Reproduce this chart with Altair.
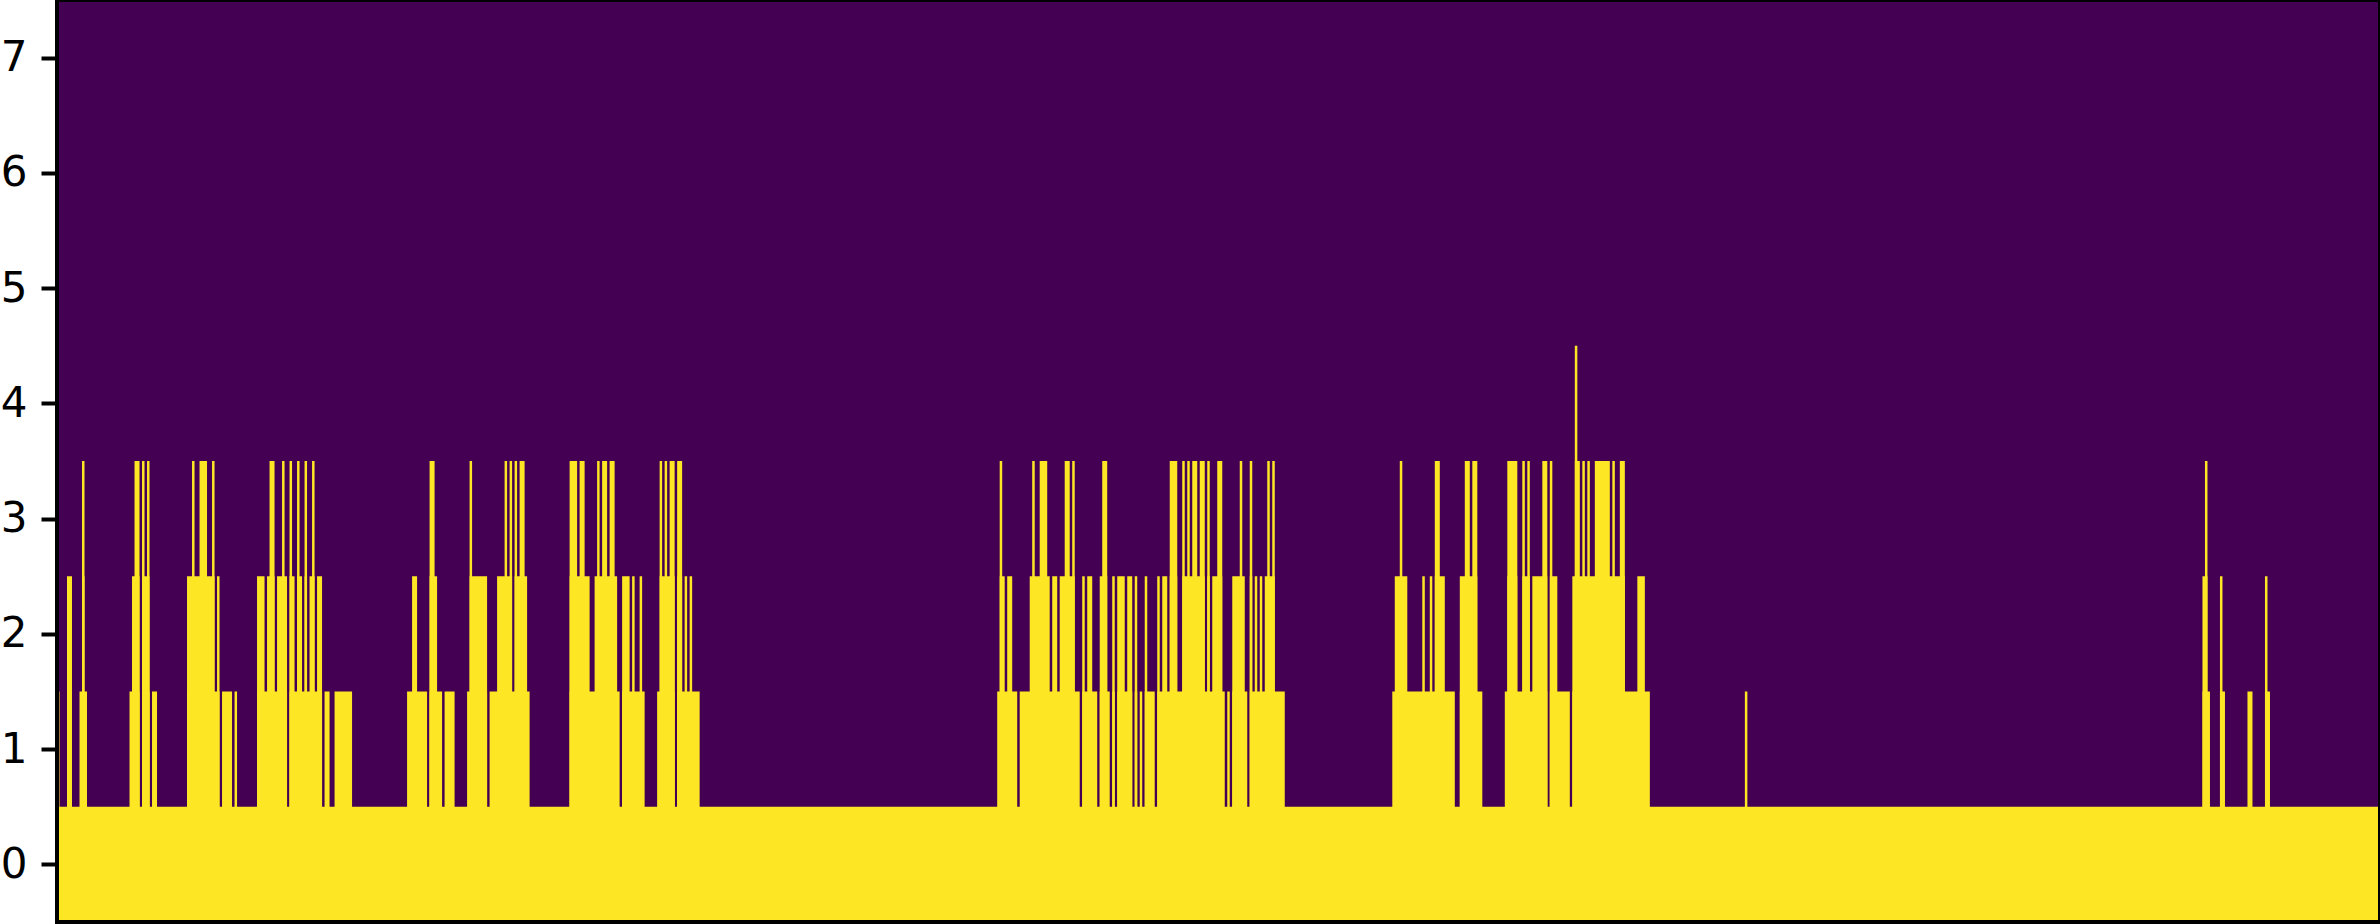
import altair as alt
import pandas as pd

# Number of columns in the image-like grid and number of rows
N_COLS = 929
N_ROWS = 8

# Run-length description of the grid: each run starts at a column index
# and all columns in the run have the given number of filled (yellow) cells.
RUN_START = [
    0, 1, 4, 6, 9, 10, 11, 12,
    29, 30, 31, 33, 34, 35, 36, 37, 38, 40,
    52, 54, 55, 57, 60, 62, 63, 64, 65, 66, 70, 71, 72,
    80, 83, 84, 85, 87, 88, 90, 91, 92, 93, 94, 95, 96, 97, 98, 99, 100, 101, 102, 103, 104, 106, 107, 109, 111, 118,
    140, 142, 144, 148, 149, 151, 152, 154, 155, 159, 164, 165, 166, 172, 173, 176, 179, 180, 181, 182, 183, 184, 185, 187, 188, 189,
    205, 208, 209, 211, 213, 215, 216, 217, 218, 220, 221, 223, 224, 225, 226, 229, 230, 231, 233, 234, 235,
    240, 241, 242, 243, 244, 245, 247, 248, 250, 251, 252, 253, 254, 257,
    376, 377, 378, 379, 380, 382, 384, 385, 389, 390, 391, 393, 396, 397, 398, 400, 401, 403, 405, 406, 407, 409,
    410, 411, 412, 414, 416, 417, 418, 420, 421, 422, 423, 424, 427, 428, 430, 431, 432, 433, 434, 435, 436, 439,
    440, 441, 442, 444, 445, 448, 450, 451, 452, 453, 454, 456, 457, 459, 460, 461, 462, 464, 466, 467, 468, 469,
    470, 473, 474, 475, 476, 477, 478, 479, 480, 481, 482, 483, 484, 485, 486, 487, 491,
    534, 535, 537, 538, 540, 546, 547, 549, 550, 551, 553, 555, 559, 561, 563, 565, 566, 568, 570,
    579, 580, 584, 586, 587, 588, 589, 590, 594, 596, 597, 598, 600, 605, 606, 607, 608, 609, 610, 611, 612, 613,
    615, 621, 622, 623, 625, 627, 632, 635, 637, 675, 676,
    858, 859, 860, 861, 865, 866, 867, 876, 878, 883, 884, 885,
]
RUN_LEVEL = [
    2, 1, 3, 1, 2, 4, 2, 1,
    2, 3, 4, 1, 4, 3, 4, 1, 2, 1,
    3, 4, 3, 4, 3, 4, 2, 3, 1, 2, 1, 2, 1,
    3, 2, 3, 4, 2, 3, 4, 3, 1, 4, 3, 2, 4, 3, 2, 4, 2, 3, 4, 2, 3, 1, 2, 1, 2, 1,
    2, 3, 2, 1, 4, 3, 2, 1, 2, 1, 2, 4, 3, 1, 2, 3, 4, 3, 4, 2, 4, 3, 4, 3, 2, 1,
    4, 3, 4, 3, 2, 3, 4, 3, 4, 3, 4, 3, 2, 1, 3, 2, 3, 2, 3, 2, 1,
    2, 4, 3, 4, 3, 4, 1, 4, 2, 3, 2, 3, 2, 1,
    2, 4, 3, 2, 3, 2, 1, 2, 3, 4, 3, 4, 3, 2, 3, 2, 3, 4, 3, 4, 2, 1,
    3, 2, 3, 2, 1, 3, 4, 2, 1, 3, 1, 3, 2, 3, 1, 3, 1, 2, 1, 3, 2, 1,
    3, 2, 3, 2, 4, 2, 4, 3, 4, 3, 4, 3, 4, 2, 4, 2, 3, 4, 2, 1, 2, 1,
    3, 4, 3, 2, 1, 4, 2, 3, 2, 3, 2, 3, 4, 3, 4, 2, 1,
    2, 3, 4, 3, 2, 3, 2, 3, 2, 4, 3, 2, 1, 3, 4, 3, 4, 2, 1,
    2, 4, 2, 4, 3, 4, 2, 3, 4, 1, 4, 3, 2, 1, 3, 5, 4, 3, 4, 3, 4, 3,
    4, 3, 4, 3, 4, 2, 3, 2, 1, 2, 1,
    3, 4, 2, 1, 3, 2, 1, 2, 1, 3, 2, 1,
]
assert len(RUN_START) == len(RUN_LEVEL)

Y_TICKS = [0, 1, 2, 3, 4, 5, 6, 7]

COLOR_LOW = "#440154"   # viridis 0
COLOR_HIGH = "#fde725"  # viridis 1

# Expand runs to per-column filled-cell counts
col_level = [0] * N_COLS
run_end = RUN_START[1:] + [N_COLS]
for s, e, lv in zip(RUN_START, run_end, RUN_LEVEL):
    for c in range(s, e):
        col_level[c] = lv

# For every row r, find maximal column spans whose cell (c, r) is filled;
# each span is drawn from the bottom edge to the top of row r, so that
# overlapping rects of equal colour leave no seams.
rows = []
max_level = max(col_level)
for r in range(max_level):
    c = 0
    while c < N_COLS:
        if col_level[c] > r:
            start = c
            while c < N_COLS and col_level[c] > r:
                c += 1
            rows.append({"x0": start - 0.5, "x1": c - 0.5, "y0": -0.5, "y1": r + 0.5})
        else:
            c += 1
df = pd.DataFrame(rows)

xscale = alt.Scale(domain=[-0.5, N_COLS - 0.5], nice=False, zero=False)
yscale = alt.Scale(domain=[-0.5, N_ROWS - 0.5], nice=False, zero=False)

cells = alt.Chart(df).mark_rect(color=COLOR_HIGH, clip=True).encode(
    x=alt.X("x0:Q", scale=xscale, axis=None),
    x2="x1:Q",
    y=alt.Y(
        "y0:Q", scale=yscale, title="",
        axis=alt.Axis(
            values=Y_TICKS, format="d", labelFont="DejaVu Sans", labelFontSize=42,
            labelColor="black", tickColor="black", tickWidth=4, tickSize=16,
            labelPadding=14, domain=False, grid=False,
        ),
    ),
    y2="y1:Q",
)

frame = alt.Chart(pd.DataFrame({"k": [0]})).mark_rect(
    filled=False, stroke="black", strokeWidth=4
).encode(
    x=alt.value(0), x2=alt.value(2323), y=alt.value(0), y2=alt.value(922)
)

chart = alt.layer(cells, frame).properties(
    width=2323, height=922,
    padding={"left": 57, "top": 0, "right": 0, "bottom": 2},
    autosize="none",
    background="white",
).configure_view(
    fill=COLOR_LOW, stroke="black", strokeWidth=4
)

chart.save("out.html", embed_options={"renderer": "svg", "actions": False})
